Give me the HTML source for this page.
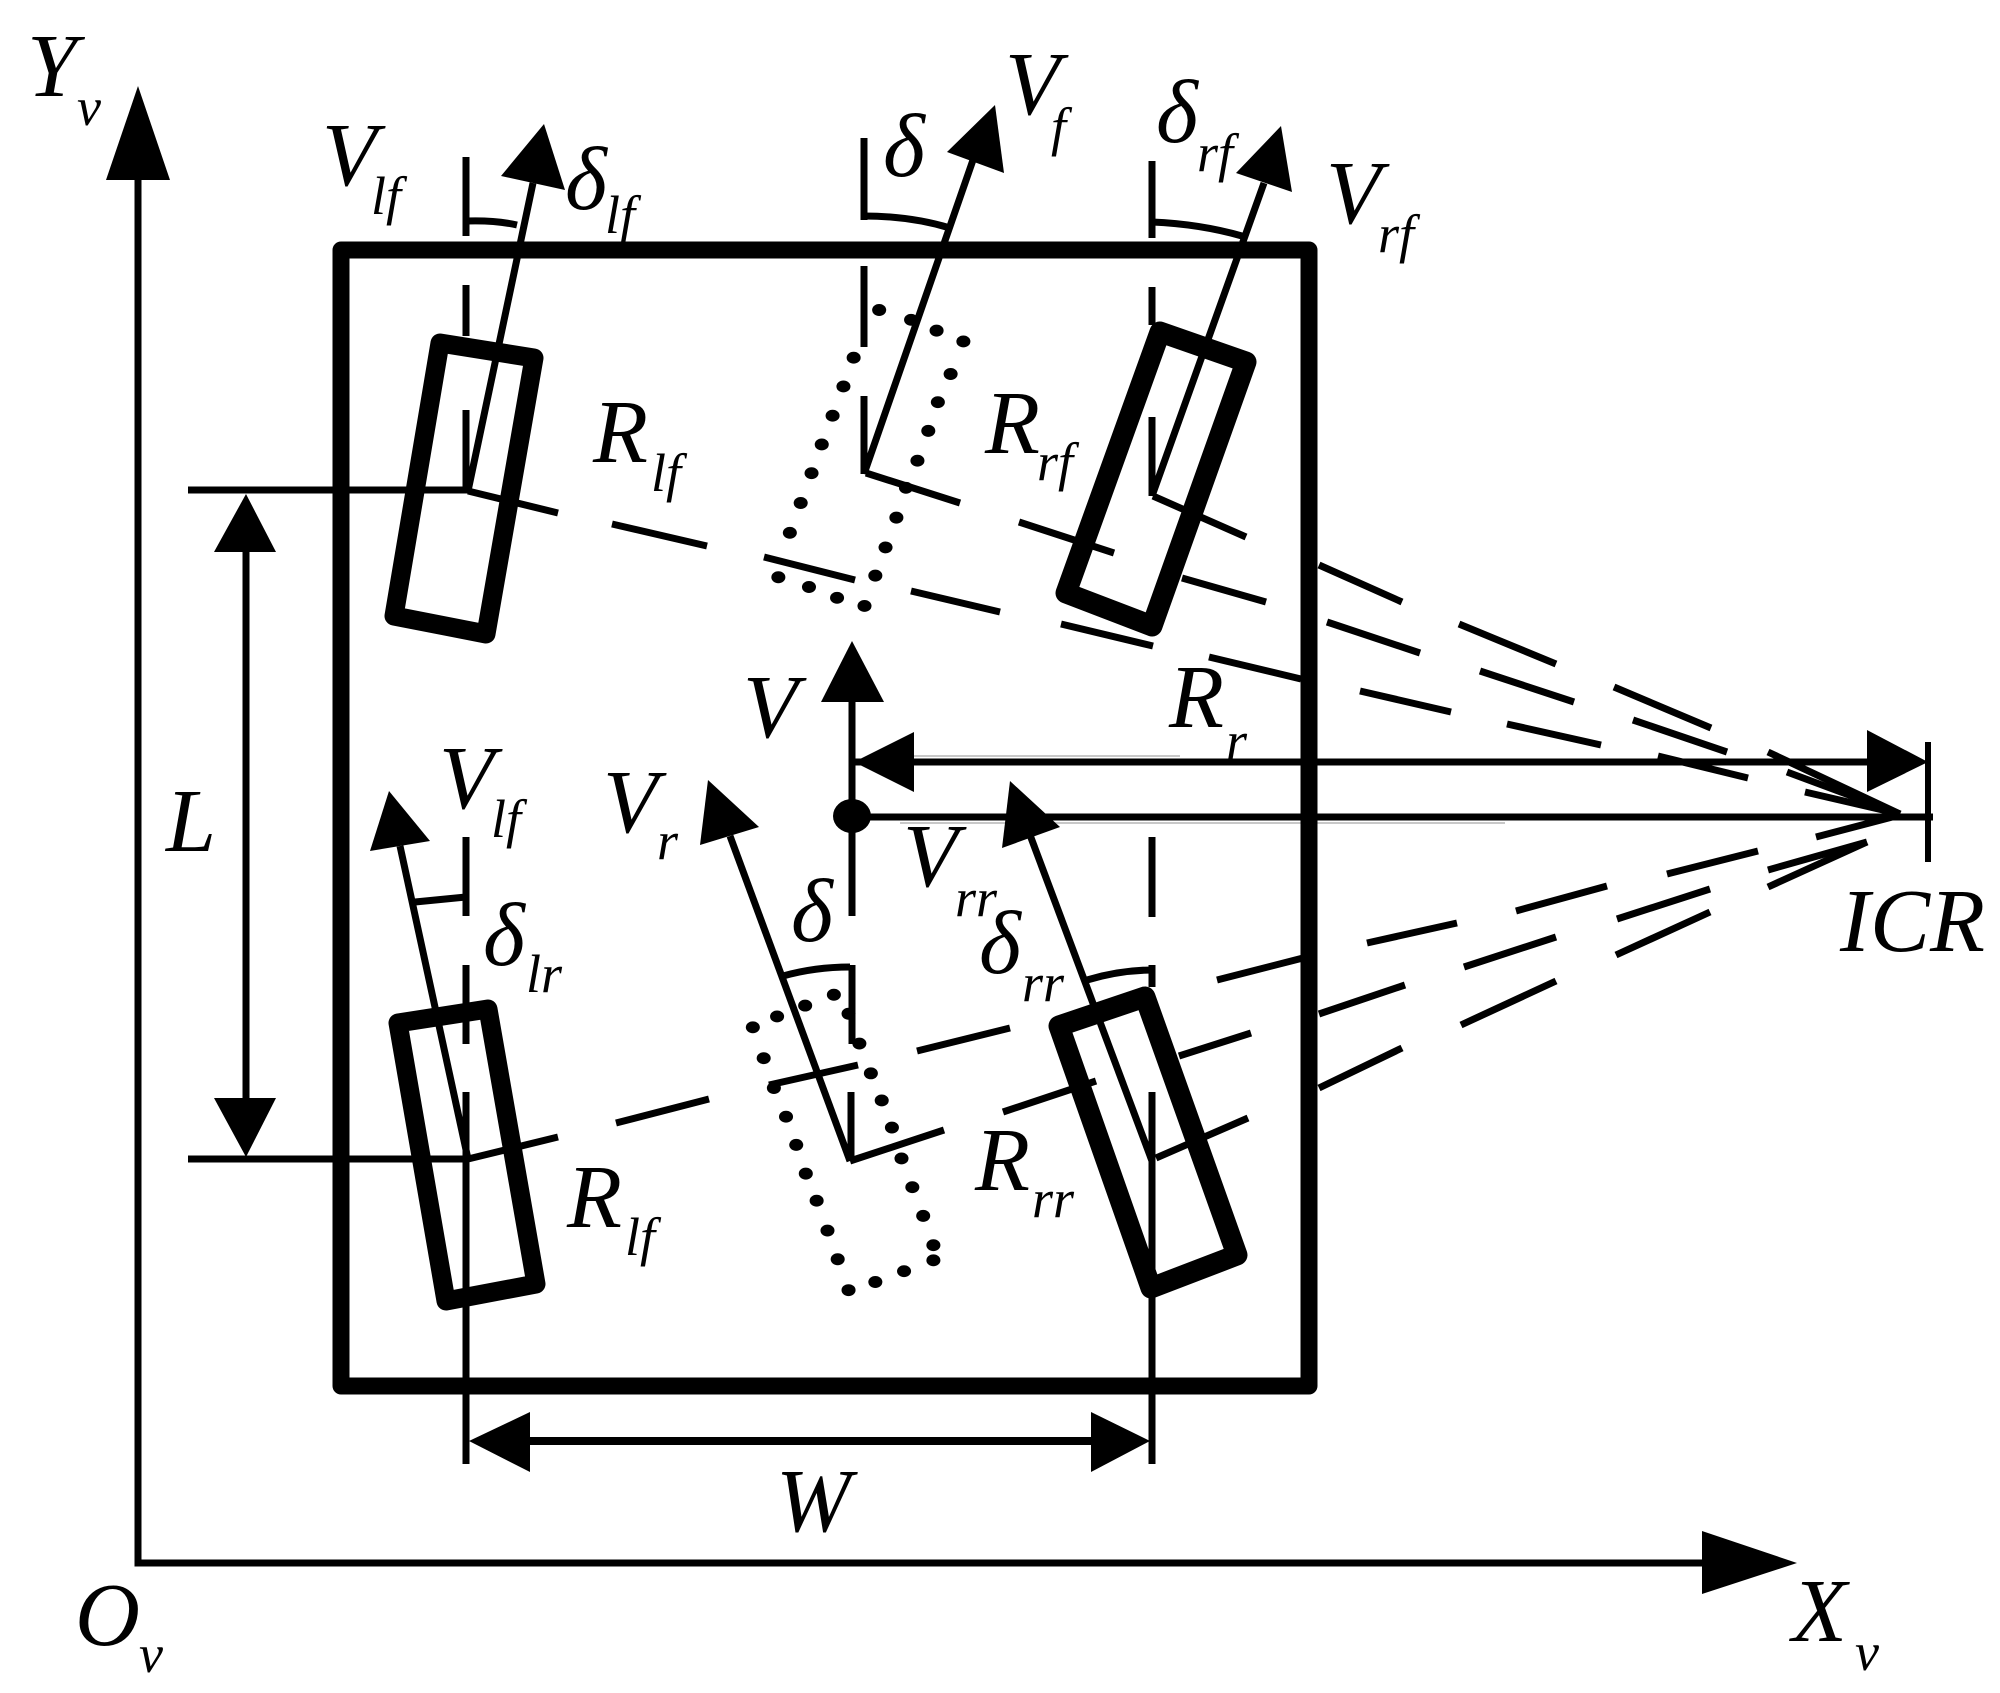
<!DOCTYPE html>
<html>
<head>
<meta charset="utf-8">
<style>
html,body{margin:0;padding:0;background:#fff;}
svg{display:block;}
text{font-family:"Liberation Serif",serif;font-style:italic;fill:#000;}
.m{font-size:90px;}
.s{font-size:54px;}
</style>
</head>
<body>
<svg xmlns="http://www.w3.org/2000/svg" width="2000" height="1693" viewBox="0 0 2000 1693">
<rect width="2000" height="1693" fill="#fff"/>

<!-- faint scan shadows -->
<g stroke="#c8c8c8" stroke-width="2" fill="none">
  <path d="M870 756H1180M900 823H1505M140 200V1560"/>
</g>

<!-- axes -->
<g stroke="#000" fill="none" stroke-width="7">
  <path d="M138 180V1563H1702"/>
</g>
<polygon points="138,86 106,180 170,180"/>
<polygon points="1797,1563 1702,1531 1702,1594"/>

<!-- body -->
<rect x="341" y="250" width="968" height="1136" fill="none" stroke="#000" stroke-width="17" stroke-linejoin="round"/>

<!-- reference lines -->
<g stroke="#000" fill="none" stroke-width="7">
  <path d="M188 490H468M188 1159H468"/>
  <path d="M466 157V236M466 285V336M466 410V491M466 837V916M466 965V1044M466 1092V1464"/>
  <path d="M864 138V220M864 266V347M864 396V474"/>
  <path d="M1152 161V238M1152 287V325M1152 417V496M1152 837V917M1152 965V987M1152 1092V1464"/>
  <path d="M852 702V916M852 965V1044M851 1092V1160"/>
</g>

<!-- dashed radial lines -->
<g stroke="#000" fill="none" stroke-width="7">
  <path d="M468 491L558 513M612 524L707 546M764 557L855 580M911 591L1000 612M1061 624L1153 646M1209 657L1301 679M1360 691L1451 712M1507 724L1601 745M1658 756L1748 778M1805 792L1900 814"/>
  <path d="M866 473L960 503M1019 522L1114 553M1182 578L1266 602M1327 622L1420 653M1480 671L1574 702M1633 720L1727 752M1787 772L1900 814"/>
  <path d="M1153 496L1246 537M1319 565L1402 602M1459 624L1556 664M1614 687L1711 728M1768 752L1900 814"/>
  <path d="M468 1159L558 1137M616 1123L709 1099M769 1085L858 1065M917 1051L1010 1028M1217 980L1303 958M1367 943L1457 923M1516 911L1607 886M1667 874L1758 851M1816 837L1900 815"/>
  <path d="M850 1161L944 1130M1003 1112L1096 1081M1179 1056L1251 1033M1319 1014L1405 985M1464 967L1556 937M1617 919L1710 889M1768 870L1867 842"/>
  <path d="M1156 1158L1248 1118M1319 1088L1402 1048M1461 1025L1556 981M1616 955L1710 912M1768 887L1867 842"/>
</g>

<!-- dotted virtual wheels -->
<g transform="scale(.638 .542)">
  <g fill="#000">
    <circle cx="1378" cy="572" r="11"/><circle cx="1428" cy="590" r="11"/><circle cx="1468" cy="610" r="11"/><circle cx="1510" cy="630" r="11"/>
    <circle cx="1490" cy="690" r="11"/><circle cx="1470" cy="742" r="11"/><circle cx="1455" cy="795" r="11"/><circle cx="1438" cy="850" r="11"/>
    <circle cx="1420" cy="900" r="11"/><circle cx="1405" cy="955" r="11"/><circle cx="1388" cy="1010" r="11"/><circle cx="1372" cy="1062" r="11"/><circle cx="1355" cy="1118" r="11"/>
    <circle cx="1312" cy="1103" r="11"/><circle cx="1268" cy="1083" r="11"/><circle cx="1220" cy="1065" r="11"/>
    <circle cx="1238" cy="983" r="11"/><circle cx="1255" cy="928" r="11"/><circle cx="1272" cy="873" r="11"/><circle cx="1288" cy="820" r="11"/>
    <circle cx="1305" cy="767" r="11"/><circle cx="1322" cy="713" r="11"/><circle cx="1338" cy="660" r="11"/>
  </g>
</g>
<g transform="translate(0 843) scale(.638 .542)">
  <g fill="#000">
    <circle cx="1180" cy="340" r="11"/><circle cx="1218" cy="320" r="11"/><circle cx="1262" cy="300" r="11"/><circle cx="1307" cy="280" r="11"/>
    <circle cx="1330" cy="315" r="11"/><circle cx="1347" cy="370" r="11"/><circle cx="1365" cy="425" r="11"/><circle cx="1382" cy="475" r="11"/>
    <circle cx="1398" cy="525" r="11"/><circle cx="1413" cy="582" r="11"/><circle cx="1430" cy="635" r="11"/><circle cx="1447" cy="688" r="11"/>
    <circle cx="1463" cy="742" r="11"/><circle cx="1463" cy="770" r="11"/><circle cx="1417" cy="790" r="11"/><circle cx="1372" cy="810" r="11"/><circle cx="1330" cy="825" r="11"/>
    <circle cx="1313" cy="768" r="11"/><circle cx="1297" cy="715" r="11"/><circle cx="1280" cy="660" r="11"/><circle cx="1263" cy="610" r="11"/>
    <circle cx="1248" cy="557" r="11"/><circle cx="1232" cy="505" r="11"/><circle cx="1213" cy="452" r="11"/><circle cx="1197" cy="397" r="11"/>
  </g>
</g>

<!-- wheels -->
<g fill="none" stroke="#000" stroke-linejoin="round">
  <polygon points="440,343 534,358 486,634 394,616" stroke-width="19"/>
  <polygon points="1160,332 1246,362 1152,626 1066,593" stroke-width="21"/>
  <polygon points="398,1023 488,1009 536,1284 446,1301" stroke-width="19"/>
  <polygon points="1059,1026 1145,997 1237,1255 1151,1288" stroke-width="21"/>
</g>

<!-- velocity arrows -->
<g stroke="#000" fill="none" stroke-width="7">
  <path d="M468 491L533 183"/>
  <path d="M864 474L973 160"/>
  <path d="M1152 496L1264 183"/>
  <path d="M468 1159L400 846"/>
  <path d="M850 1161L730 836"/>
  <path d="M1152 1161L1030 835"/>
  <path d="M466 221Q495 220 517 225"/>
  <path d="M864 216Q910 216 950 228"/>
  <path d="M1152 222Q1200 224 1242 236"/>
  <path d="M415 902L466 897"/>
  <path d="M850 967Q815 967 783 976"/>
  <path d="M1087 980Q1120 970 1153 970"/>
</g>
<g fill="#000">
  <polygon points="544,124 501,176 565,190"/>
  <polygon points="995,105 947,152 1004,173"/>
  <polygon points="1281,126 1236,173 1292,192"/>
  <polygon points="389,791 370,851 430,841"/>
  <polygon points="708,780 700,845 759,827"/>
  <polygon points="1010,781 1002,848 1060,827"/>
</g>

<!-- V arrow and dot -->
<polygon points="852,641 821,702 884,702"/>
<ellipse cx="852" cy="816" rx="19" ry="17"/>

<!-- R_r and ICR lines -->
<g stroke="#000" fill="none">
  <path d="M854 762H1880" stroke-width="7"/>
  <path d="M852 817H1933" stroke-width="7"/>
  <path d="M1928 742V862" stroke-width="6"/>
</g>
<polygon points="854,762 914,732 914,792"/>
<polygon points="1928,762 1867,730 1867,792"/>

<!-- L dimension -->
<path d="M246 552V1098" stroke="#000" stroke-width="7" fill="none"/>
<polygon points="246,494 214,552 276,552"/>
<polygon points="246,1157 214,1098 276,1098"/>

<!-- W dimension -->
<path d="M530 1441H1091" stroke="#000" stroke-width="8" fill="none"/>
<polygon points="469,1441 530,1412 530,1472"/>
<polygon points="1150,1441 1091,1412 1091,1472"/>

<!-- labels -->
<text class="m" x="27" y="96">Y</text><text class="s" x="77" y="125">v</text>
<text class="m" x="322" y="185">V</text><text class="s" x="371" y="214">lf</text>
<text class="m" x="565" y="209">δ</text><text class="s" x="605" y="233">lf</text>
<text class="m" x="883" y="176">δ</text>
<text class="m" x="1005" y="114">V</text><text class="s" x="1051" y="145">f</text>
<text class="m" x="1156" y="142">δ</text><text class="s" x="1197" y="171">rf</text>
<text class="m" x="1326" y="223">V</text><text class="s" x="1378" y="252">rf</text>
<text class="m" x="593" y="462">R</text><text class="s" x="651" y="491">lf</text>
<text class="m" x="985" y="453">R</text><text class="s" x="1037" y="480">rf</text>
<text class="m" x="1169" y="727">R</text><text class="s" x="1226" y="759">r</text>
<text class="m" x="743" y="737">V</text>
<text class="m" x="439" y="808">V</text><text class="s" x="491" y="837">lf</text>
<text class="m" x="603" y="832">V</text><text class="s" x="657" y="859">r</text>
<text class="m" x="166" y="851">L</text>
<text class="m" x="903" y="886">V</text><text class="s" x="955" y="916">rr</text>
<text class="m" x="791" y="941">δ</text>
<text class="m" x="979" y="973">δ</text><text class="s" x="1022" y="1001">rr</text>
<text class="m" x="483" y="965">δ</text><text class="s" x="526" y="992">lr</text>
<text class="m" x="1840" y="951">ICR</text>
<text class="m" x="567" y="1227">R</text><text class="s" x="625" y="1255">lf</text>
<text class="m" x="975" y="1190">R</text><text class="s" x="1032" y="1217">rr</text>
<text class="m" x="776" y="1531">W</text>
<text class="m" x="75" y="1645">O</text><text class="s" x="139" y="1672">v</text>
<text class="m" x="1792" y="1641">X</text><text class="s" x="1855" y="1670">v</text>
</svg>
</body>
</html>
